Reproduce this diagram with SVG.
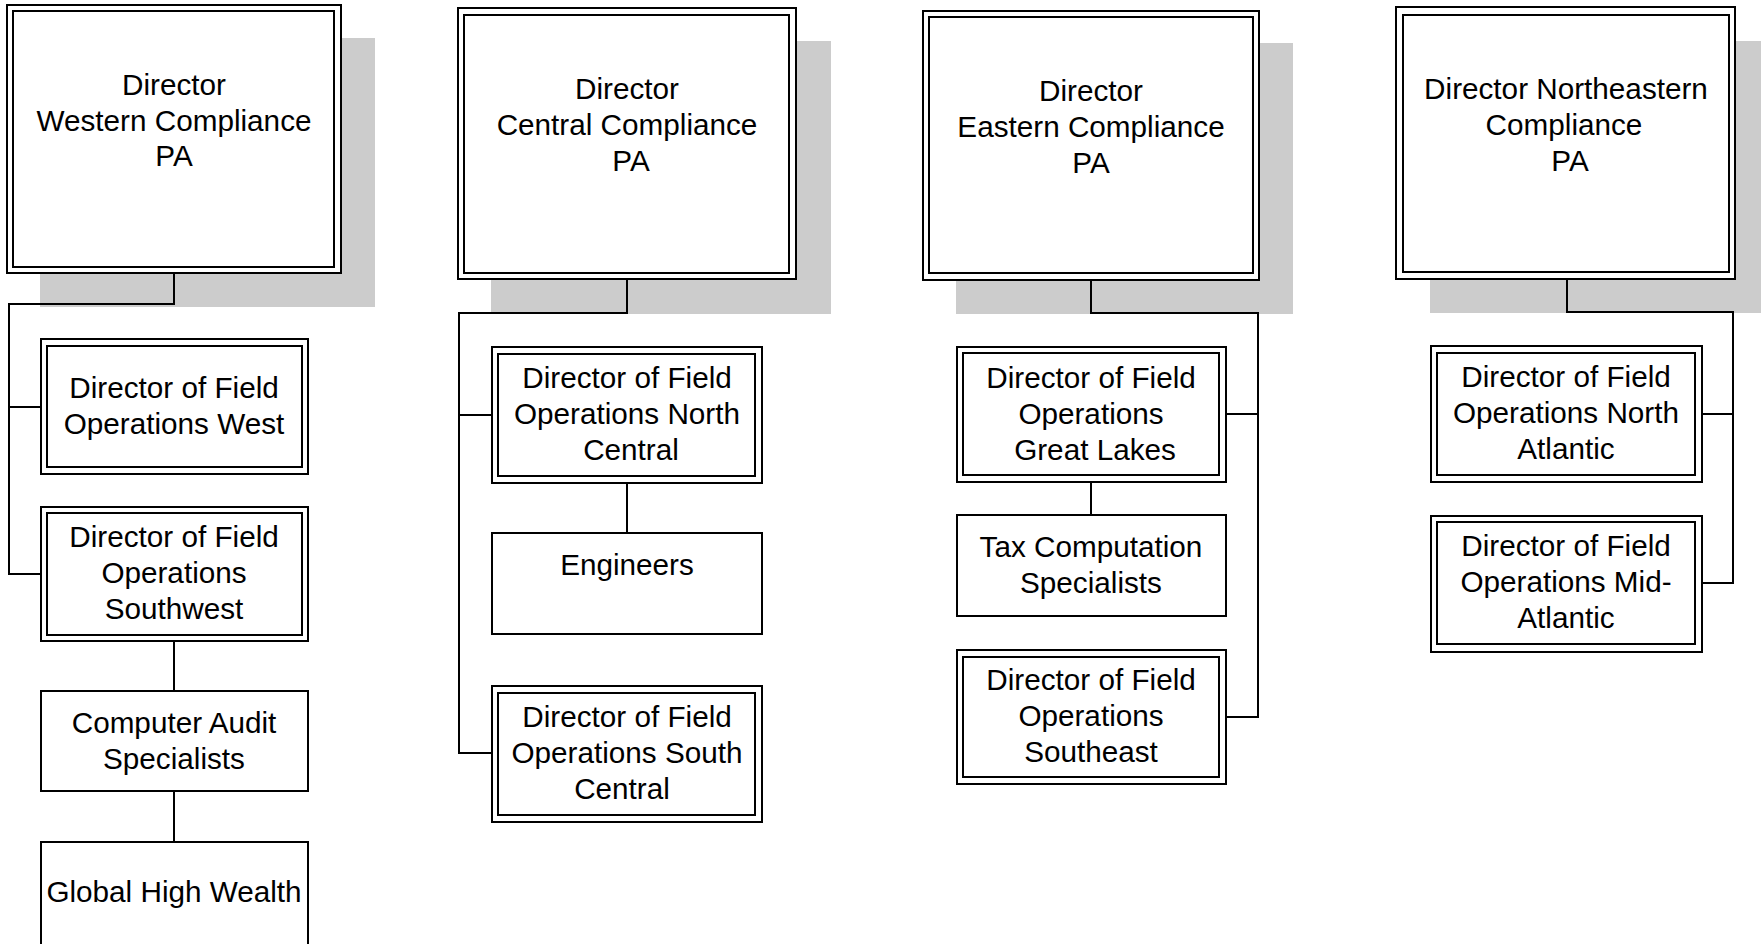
<svg xmlns="http://www.w3.org/2000/svg" width="1761" height="944" viewBox="0 0 1761 944">
<style>
.sh{fill:#cccccc;stroke:none}
.o{fill:#ffffff;stroke:#000000;stroke-width:2}
.i{fill:none;stroke:#000000;stroke-width:2}
.c{fill:none;stroke:#000000;stroke-width:2}
text{font-family:"Liberation Sans",Arial,sans-serif;font-size:29.7px;fill:#000000;text-anchor:middle}
</style>
<rect x="0" y="0" width="1761" height="944" fill="#ffffff"/>
<g id="shadows">
<rect class="sh" x="40" y="38" width="335" height="269"/>
<rect class="sh" x="491" y="41" width="340" height="273"/>
<rect class="sh" x="956" y="43" width="337" height="271"/>
<rect class="sh" x="1430" y="41" width="340" height="272"/>
</g>
<g id="connectors">
<path class="c" d="M174 273V304H9V574H41M9 407H41"/>
<path class="c" d="M174 641V691M174 791V842"/>
<path class="c" d="M627 279V313H459V753H492M459 415H492"/>
<path class="c" d="M627 483V533"/>
<path class="c" d="M1091 280V313H1258V717H1226M1258 414H1226"/>
<path class="c" d="M1091 482V515"/>
<path class="c" d="M1567 279V312H1733V583H1702M1733 414H1702"/>
</g>
<g id="western">
<rect class="o" x="7" y="5" width="334" height="268"/>
<rect class="i" x="13" y="11" width="321" height="256"/>
<text x="174" y="95">Director<tspan x="174" dy="35.5">Western Compliance</tspan><tspan x="174" dy="35.5">PA</tspan></text>
</g>
<g id="dfo-west">
<rect class="o" x="41" y="339" width="267" height="135"/>
<rect class="i" x="47" y="346" width="255" height="121"/>
<text x="174" y="398">Director of Field<tspan x="174" dy="36">Operations West</tspan></text>
</g>
<g id="dfo-southwest">
<rect class="o" x="41" y="507" width="267" height="134"/>
<rect class="i" x="47" y="513" width="255" height="122"/>
<text x="174" y="547">Director of Field<tspan x="174" dy="36">Operations</tspan><tspan x="174" dy="36">Southwest</tspan></text>
</g>
<g id="computer-audit">
<rect class="o" x="41" y="691" width="267" height="100"/>
<text x="174" y="733">Computer Audit<tspan x="174" dy="36">Specialists</tspan></text>
</g>
<g id="global-high-wealth">
<rect class="o" x="41" y="842" width="267" height="120"/>
<text x="174" y="902">Global High Wealth</text>
</g>
<g id="central">
<rect class="o" x="458" y="8" width="338" height="271"/>
<rect class="i" x="464" y="15" width="325" height="258"/>
<text x="627" y="99">Director<tspan x="627" dy="36">Central Compliance</tspan><tspan x="631" dy="36">PA</tspan></text>
</g>
<g id="dfo-north-central">
<rect class="o" x="492" y="347" width="270" height="136"/>
<rect class="i" x="498" y="354" width="257" height="122"/>
<text x="627" y="388">Director of Field<tspan x="627" dy="36">Operations North</tspan><tspan x="631" dy="36">Central</tspan></text>
</g>
<g id="engineers">
<rect class="o" x="492" y="533" width="270" height="101"/>
<text x="627" y="575">Engineers</text>
</g>
<g id="dfo-south-central">
<rect class="o" x="492" y="686" width="270" height="136"/>
<rect class="i" x="498" y="693" width="257" height="122"/>
<text x="627" y="727">Director of Field<tspan x="627" dy="36">Operations South</tspan><tspan x="622" dy="36">Central</tspan></text>
</g>
<g id="eastern">
<rect class="o" x="923" y="11" width="336" height="269"/>
<rect class="i" x="929" y="17" width="324" height="256"/>
<text x="1091" y="101">Director<tspan x="1091" dy="36">Eastern Compliance</tspan><tspan x="1091" dy="36">PA</tspan></text>
</g>
<g id="dfo-great-lakes">
<rect class="o" x="957" y="347" width="269" height="135"/>
<rect class="i" x="963" y="353" width="256" height="122"/>
<text x="1091" y="388">Director of Field<tspan x="1091" dy="36">Operations</tspan><tspan x="1095" dy="36">Great Lakes</tspan></text>
</g>
<g id="tax-computation">
<rect class="o" x="957" y="515" width="269" height="101"/>
<text x="1091" y="557">Tax Computation<tspan x="1091" dy="36">Specialists</tspan></text>
</g>
<g id="dfo-southeast">
<rect class="o" x="957" y="650" width="269" height="134"/>
<rect class="i" x="963" y="657" width="256" height="120"/>
<text x="1091" y="690">Director of Field<tspan x="1091" dy="36">Operations</tspan><tspan x="1091" dy="36">Southeast</tspan></text>
</g>
<g id="northeastern">
<rect class="o" x="1396" y="7" width="339" height="272"/>
<rect class="i" x="1403" y="15" width="326" height="257"/>
<text x="1566" y="99">Director Northeastern<tspan x="1564" dy="36">Compliance</tspan><tspan x="1570" dy="36">PA</tspan></text>
</g>
<g id="dfo-north-atlantic">
<rect class="o" x="1431" y="346" width="271" height="136"/>
<rect class="i" x="1437" y="353" width="258" height="122"/>
<text x="1566" y="387">Director of Field<tspan x="1566" dy="36">Operations North</tspan><tspan x="1566" dy="36">Atlantic</tspan></text>
</g>
<g id="dfo-mid-atlantic">
<rect class="o" x="1431" y="516" width="271" height="136"/>
<rect class="i" x="1437" y="522" width="258" height="122"/>
<text x="1566" y="556">Director of Field<tspan x="1566" dy="36">Operations Mid-</tspan><tspan x="1566" dy="36">Atlantic</tspan></text>
</g>
</svg>
